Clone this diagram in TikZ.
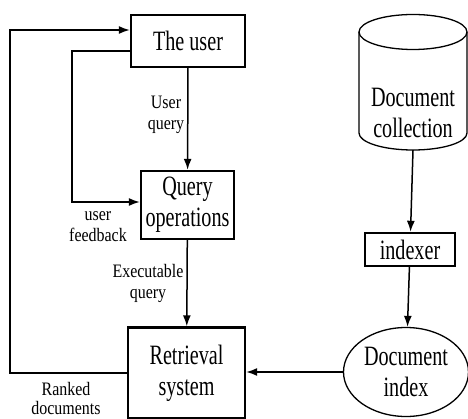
\documentclass[tikz,border=0pt]{standalone}
\usepackage{fontspec}
\setmainfont{Liberation Serif}
\newfontfamily\boxfont[FakeStretch=0.72]{Liberation Serif}
\newfontfamily\lblfont[FakeStretch=0.84]{Liberation Serif}
\usetikzlibrary{arrows.meta,shapes.geometric}

\begin{document}
\begin{tikzpicture}[x=1pt, y=-1pt,
  box/.style={draw, line width=2.4pt, align=center, inner sep=0pt, font=\boxfont\fontsize{28}{31}\selectfont},
  store/.style={draw, line width=1.3pt, align=center, inner sep=0pt, font=\boxfont\fontsize{28}{31}\selectfont},
  txt/.style={align=center, inner sep=0pt, font=\boxfont\fontsize{28}{31}\selectfont},
  lbl/.style={align=center, inner sep=0pt, font=\lblfont\fontsize{19}{21}\selectfont},
  flow/.style={-{Latex[length=11pt,width=8pt]}, line width=1.5pt}]
\useasboundingbox (0,0) rectangle (468,419);
\clip (0,0) rectangle (468,419);

% left column
\node[box, minimum width=114pt, minimum height=52pt] (user) at (188,41) {The user};
\node[box, minimum width=93pt, minimum height=68pt] (query) at (187.5,205) {Query\\operations};
\node[box, minimum width=117pt, minimum height=91pt] (retr) at (186.5,373) {Retrieval\\system};

% right column
\node[minimum width=108pt, minimum height=135pt, inner sep=0pt] (coll) at (413,82.5) {};
\draw[line width=1.3pt] (359,32) -- (359,133) arc[start angle=180, end angle=0, x radius=54, y radius=17] -- (467,32);
\draw[line width=1.3pt] (413,32) ellipse [x radius=54, y radius=17.5];
\node[txt] (colltxt) at (413,113) {Document\\collection};
\node[box, minimum width=90pt, minimum height=33pt] (indexer) at (410,249.5) {indexer};
\node[store, ellipse, minimum width=125pt, minimum height=89pt] (idx) at (406,372) {Document\\index};

% labels
\node[lbl] (uq) at (166,115) {User\\query};
\node[lbl] (uf) at (98,227) {user\\feedback};
\node[lbl] (eq) at (148,283) {Executable\\query};
\node[lbl, font=\lblfont\fontsize{19}{19}\selectfont] (rd) at (66,398) {Ranked\\documents};

% corners of the loops
\coordinate (lt) at (10,30);
\coordinate (lb) at (10,373);
\coordinate (ft) at (72,51);
\coordinate (fb) at (72,202);

\draw[flow] (user) -- (query);
\draw[flow] (query) -- (retr);
\draw[flow] (coll.south) -- (indexer);
\draw[flow] (indexer) -- (idx);
\draw[flow] (idx.west) -- (idx.west -| retr.east);
\draw[flow] (retr.west) -- (lb) -- (lt) -- (lt -| user.west);
\draw[flow] (ft -| user.west) -- (ft) -- (fb) -- (fb -| query.west);
\end{tikzpicture}
\end{document}
